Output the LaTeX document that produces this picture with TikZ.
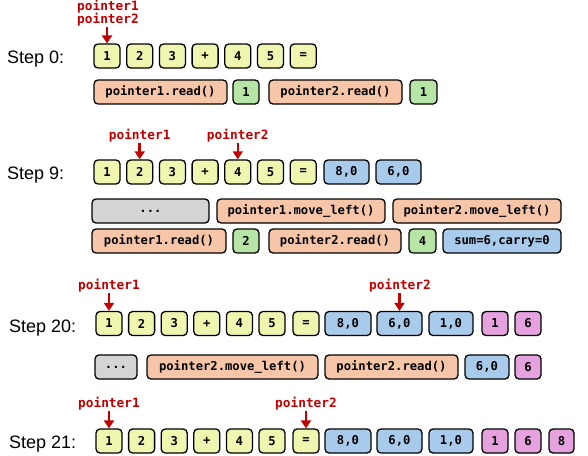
\documentclass[tikz,border=0pt]{standalone}
\usepackage{fontspec}
\setmainfont{Liberation Sans}
\setmonofont{DejaVu Sans Mono}
\usetikzlibrary{arrows.meta}
\definecolor{cyel}{HTML}{F0F5B0}
\definecolor{csal}{HTML}{F7C6A9}
\definecolor{cgrn}{HTML}{B7E5A6}
\definecolor{cblu}{HTML}{A8CAEB}
\definecolor{cpnk}{HTML}{E5A2DE}
\definecolor{cgry}{HTML}{D4D4D4}
\definecolor{cred}{HTML}{C00000}
\tikzset{
  cell/.style={draw=black, line width=1.3pt, rounded corners=4pt, minimum height=24pt,
    inner sep=0pt, text=black, font=\ttfamily\bfseries\fontsize{12.2}{14}\selectfont},
  ycell/.style={cell, fill=cyel, minimum width=26pt},
  gcell/.style={cell, fill=cgrn, minimum width=26pt},
  pcell/.style={cell, fill=cpnk, minimum width=26pt},
  bcell/.style={cell, fill=cblu, minimum width=45pt},
  scell/.style={cell, fill=csal},
  dcell/.style={cell, fill=cgry},
  steplab/.style={anchor=base west, inner sep=0pt, font=\fontsize{18}{20}\selectfont},
  ptrlab/.style={anchor=base, inner sep=1pt, text=cred, font=\ttfamily\bfseries\fontsize{12.8}{13}\selectfont},
  parrow/.style={draw=cred, line width=2.6pt, -{Triangle[width=10pt,length=8pt]}}
}
\begin{document}
\begin{tikzpicture}[x=1pt,y=-1pt]
\useasboundingbox (0,0) rectangle (588,455);

% ---------- Step 0 ----------
\node[steplab] (l0) at (7,63) {Step 0:};
\node[ycell] (a1) at (107,56) {1};
\node[ycell] (a2) at (139.7,56) {2};
\node[ycell] (a3) at (172.4,56) {3};
\node[ycell] (a4) at (205.1,56) {+};
\node[ycell] (a5) at (237.8,56) {4};
\node[ycell] (a6) at (270.5,56) {5};
\node[ycell] (a7) at (303.2,56) {=};
\node[ptrlab] (a0p1) at (108,10) {pointer1};
\node[ptrlab] (a0p2) at (108,23) {pointer2};
\draw[parrow] (a1.north |- a0p2.south) -- (a1.north);
\node[scell, minimum width=133pt] (ar1) at (160.5,92) {pointer1.read()};
\node[gcell] (ag1) at (246,92) {1};
\node[scell, minimum width=133pt] (ar2) at (335.5,92) {pointer2.read()};
\node[gcell, minimum width=27pt] (ag2) at (423.5,92) {1};

% ---------- Step 9 ----------
\node[steplab] (l9) at (7,179) {Step 9:};
\node[ycell] (b1) at (107,172) {1};
\node[ycell] (b2) at (139.7,172) {2};
\node[ycell] (b3) at (172.4,172) {3};
\node[ycell] (b4) at (205.1,172) {+};
\node[ycell] (b5) at (237.8,172) {4};
\node[ycell] (b6) at (270.5,172) {5};
\node[ycell] (b7) at (303.2,172) {=};
\node[bcell] (b8) at (346.5,172) {8,0};
\node[bcell] (b9) at (398.5,172) {6,0};
\node[ptrlab] (b0p1) at (139.7,139) {pointer1};
\node[ptrlab] (b0p2) at (237.8,139) {pointer2};
\draw[parrow] (b2.north |- b0p1.south) -- (b2.north);
\draw[parrow] (b5.north |- b0p2.south) -- (b5.north);
\node[dcell, minimum width=117pt] (bd) at (150.5,211) {...};
\node[scell, minimum width=168pt] (bm1) at (301,211) {pointer1.move\_left()};
\node[scell, minimum width=168pt] (bm2) at (477,211) {pointer2.move\_left()};
\node[scell, minimum width=134pt] (br1) at (159,241) {pointer1.read()};
\node[gcell] (bg1) at (246,241) {2};
\node[scell, minimum width=132pt] (br2) at (335,241) {pointer2.read()};
\node[gcell, minimum width=27pt] (bg2) at (422.5,241) {4};
\node[bcell, minimum width=118pt] (bs) at (502,241) {sum=6,carry=0};

% ---------- Step 20 ----------
\node[steplab] (l20) at (9,332) {Step 20:};
\node[ycell] (c1) at (109,323.5) {1};
\node[ycell] (c2) at (141.6,323.5) {2};
\node[ycell] (c3) at (174.2,323.5) {3};
\node[ycell] (c4) at (206.8,323.5) {+};
\node[ycell] (c5) at (239.4,323.5) {4};
\node[ycell] (c6) at (272,323.5) {5};
\node[ycell] (c7) at (306,323.5) {=};
\node[bcell, minimum width=46pt] (c8) at (348,323.5) {8,0};
\node[bcell] (c9) at (399.5,323.5) {6,0};
\node[bcell, minimum width=44pt] (c10) at (451,323.5) {1,0};
\node[pcell] (c11) at (495,323.5) {1};
\node[pcell] (c12) at (528,323.5) {6};
\node[ptrlab] (c0p1) at (109,289) {pointer1};
\node[ptrlab] (c0p2) at (400,289) {pointer2};
\draw[parrow] (c1.north |- c0p1.south) -- (c1.north);
\draw[parrow] (c9.north |- c0p2.south) -- (c9.north);
\node[dcell, minimum width=42pt] (cd) at (116,367) {...};
\node[scell, minimum width=171pt] (cm2) at (232.5,367) {pointer2.move\_left()};
\node[scell, minimum width=133pt] (cr2) at (391.5,367) {pointer2.read()};
\node[bcell, minimum width=44pt] (cb) at (487,367) {6,0};
\node[pcell] (cp) at (528,367) {6};

% ---------- Step 21 ----------
\node[steplab] (l21) at (9,448) {Step 21:};
\node[ycell] (d1) at (109,441) {1};
\node[ycell] (d2) at (141.6,441) {2};
\node[ycell] (d3) at (174.2,441) {3};
\node[ycell] (d4) at (206.8,441) {+};
\node[ycell] (d5) at (239.4,441) {4};
\node[ycell] (d6) at (272,441) {5};
\node[ycell] (d7) at (306,441) {=};
\node[bcell, minimum width=46pt] (d8) at (348,441) {8,0};
\node[bcell] (d9) at (399.5,441) {6,0};
\node[bcell, minimum width=44pt] (d10) at (451,441) {1,0};
\node[pcell] (d11) at (495,441) {1};
\node[pcell] (d12) at (528,441) {6};
\node[pcell, minimum width=25pt] (d13) at (561.5,441) {8};
\node[ptrlab] (d0p1) at (109,407) {pointer1};
\node[ptrlab] (d0p2) at (306,407) {pointer2};
\draw[parrow] (d1.north |- d0p1.south) -- (d1.north);
\draw[parrow] (d7.north |- d0p2.south) -- (d7.north);
\end{tikzpicture}
\end{document}
